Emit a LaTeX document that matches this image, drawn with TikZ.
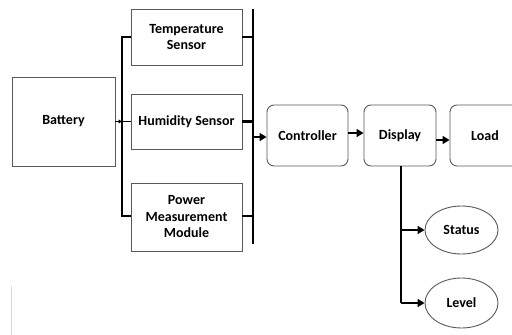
\documentclass[tikz,border=0pt]{standalone}
\usepackage{fontspec}
\setmainfont{Carlito}
\usetikzlibrary{arrows.meta,shapes.geometric}
\begin{document}
\begin{tikzpicture}[x=1pt,y=-1pt,
  box/.style={draw=black!65,line width=0.9pt,rectangle,inner sep=0pt,align=center,font=\bfseries\fontsize{14}{16.5}\selectfont},
  rbox/.style={box,rounded corners=7pt},
  oval/.style={draw=black!65,line width=0.9pt,ellipse,inner sep=0pt,font=\bfseries\fontsize{14}{16.5}\selectfont},
  wire/.style={line width=1.6pt},
  busline/.style={line width=2.6pt},
  arr/.style={line width=1.6pt,-{Triangle[length=7pt,width=8pt]}}]
\useasboundingbox (0,0) rectangle (512,335);
\clip (0,0) rectangle (512,335);
\node[box,minimum width=103pt,minimum height=89pt] (battery) at (63.5,121.5) {Battery};
\node[box,minimum width=111pt,minimum height=56pt] (temp) at (186.5,37) {Temperature\\Sensor};
\node[box,minimum width=111pt,minimum height=55pt] (hum) at (186.5,121.5) {Humidity Sensor};
\node[box,minimum width=111pt,minimum height=68pt] (power) at (186.5,217) {Power\\Measurement\\Module};
\node[rbox,minimum width=81pt,minimum height=61pt] (ctrl) at (307.5,135.5) {Controller};
\node[rbox,minimum width=72pt,minimum height=61pt] (disp) at (400,135.5) {Display};
\node[rbox,minimum width=70pt,minimum height=61pt] (load) at (485,135.5) {Load};
\node[oval,minimum width=73pt,minimum height=48pt] (status) at (461.5,230) {Status};
\node[oval,minimum width=73pt,minimum height=50pt] (level) at (461.5,303) {Level};
% left distribution line
\coordinate (lt) at (122,37);
\coordinate (lb) at (122,216);
\coordinate (lm) at (122,121.5);
\draw[wire] (temp.west) -- (lt) -- (lb) -- (power.west |- lb);
\draw[wire] (lm) -- (hum.west);
\draw[line width=1pt,-{Triangle[length=3.5pt,width=4pt]}] (battery.east) -- (lm);
% right bus
\coordinate (bt) at (253,9);
\coordinate (bb) at (253,244);
\draw[busline] (bt) -- (bb);
\draw[busline] (temp.east) -- (temp.east -| bt);
\draw[busline] (hum.east) -- (hum.east -| bt);
\draw[busline] (power.east |- lb) -- (253,216);
\coordinate (bc) at (253,137);
\draw[arr] (bc) -- (ctrl.west |- bc);
\draw[arr] (ctrl.east |- 0,133) -- (disp.west |- 0,133);
\draw[arr] (disp.east |- 0,140) -- (load.west |- 0,140);
% display branches
\coordinate (dj) at (401,230);
\coordinate (dk) at (401,303);
\draw[wire] (disp.south -| dj) -- (dk);
\draw[arr] (dj) -- (status.west);
\draw[arr] (dk) -- (level.west);
% faint mark at lower left
\draw[black!15,line width=1pt] (11,286) -- (11,335);
\end{tikzpicture}
\end{document}
